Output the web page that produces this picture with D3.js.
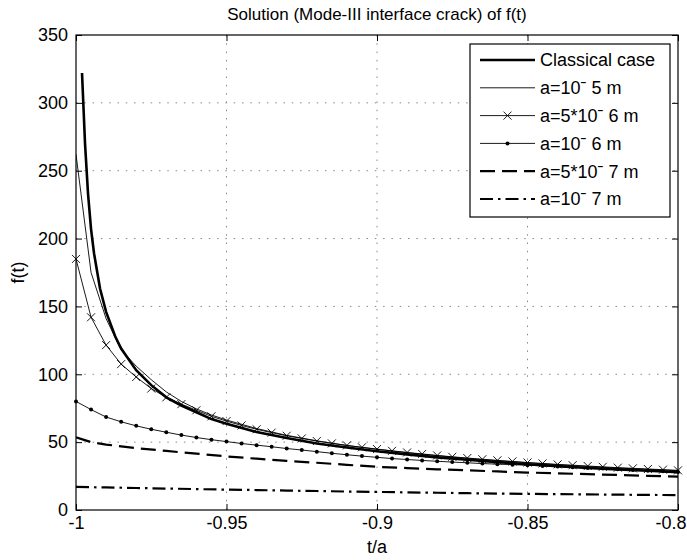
<!DOCTYPE html>
<html lang="en">
<head>
    <meta charset="utf-8">
    <title>Solution (Mode-III interface crack) of f(t)</title>
    <script src="https://d3js.org/d3.v7.min.js"></script>
    <style>
        body { margin: 0; background: #fff; }
        text { font-family: Arial, "Liberation Sans", Helvetica, sans-serif; fill: #000; }
    </style>
</head>
<body>
<script>
    // ---- Data ----
    // classical case (thick solid)
    const tClassical = [-0.998, -0.9975, -0.997, -0.996, -0.995, -0.994, -0.992, -0.99, -0.987, -0.985,
                        -0.98, -0.975, -0.97, -0.965, -0.96, -0.955, -0.95, -0.94, -0.93, -0.92,
                        -0.91, -0.9, -0.89, -0.88, -0.87, -0.86, -0.85, -0.84, -0.83, -0.82, -0.81, -0.8];
    const fClassical = [322, 296, 270, 233, 207, 189, 163, 146, 128, 119,
                        103, 92, 83, 77, 72, 67, 63.5, 57.5, 53, 49,
                        46, 43.3, 41, 38.8, 37, 35.3, 33.7, 32.3, 31, 29.9, 28.9, 27.9];

    // a = 10^-5 m (thin solid)
    const tA1 = [-1, -0.995, -0.99, -0.985, -0.98, -0.975, -0.97, -0.965, -0.96, -0.955, -0.95,
                 -0.94, -0.93, -0.92, -0.91, -0.9, -0.89, -0.88, -0.87, -0.86, -0.85,
                 -0.84, -0.83, -0.82, -0.81, -0.8];
    const fA1 = [262, 175, 141, 118, 106, 96, 87, 80, 74.5, 70, 66.3,
                 60, 55, 51, 47.5, 44.7, 42.2, 40, 38, 36.3, 34.8,
                 33.3, 32, 30.9, 29.9, 29];

    // sample points of the marker curves (step 0.005)
    const tMarked = [-1, -0.995, -0.99, -0.985, -0.98, -0.975, -0.97, -0.965, -0.96, -0.955,
                     -0.95, -0.945, -0.94, -0.935, -0.93, -0.925, -0.92, -0.915, -0.91, -0.905,
                     -0.9, -0.895, -0.89, -0.885, -0.88, -0.875, -0.87, -0.865, -0.86, -0.855,
                     -0.85, -0.845, -0.84, -0.835, -0.83, -0.825, -0.82, -0.815, -0.81, -0.805, -0.8];

    // a = 5*10^-6 m (x markers)
    const fA2 = [185, 142, 121.5, 107.5, 98, 89.5, 83, 78, 73.5, 69,
                 65.5, 62.3, 59.5, 57, 54.7, 52.7, 50.8, 49.1, 47.6, 46.2,
                 44.9, 43.6, 42.4, 41.3, 40.2, 39.2, 38.3, 37.4, 36.6, 35.8,
                 35, 34.3, 33.6, 33, 32.4, 31.8, 31.2, 30.7, 30.2, 29.7, 29.2];

    // a = 10^-6 m (dot markers)
    const fA3 = [80, 74, 68.5, 65, 62, 59.5, 57.3, 55.2, 53.4, 51.8,
                 50.4, 49, 47.8, 46.6, 45.3, 44.2, 43, 41.8, 40.7, 39.7,
                 38.8, 37.9, 37.2, 36.5, 35.9, 35.3, 34.8, 34.2, 33.8, 33.4,
                 33, 32.5, 32, 31.5, 31, 30.5, 30, 29.5, 29, 28.5, 28];

    // a = 5*10^-7 m (dashed) and a = 10^-7 m (dash-dot)
    const tLow = [-1, -0.995, -0.99, -0.98, -0.97, -0.96, -0.95, -0.94, -0.93, -0.92, -0.91, -0.9,
                  -0.89, -0.88, -0.87, -0.86, -0.85, -0.84, -0.83, -0.82, -0.81, -0.8];
    const fA4  = [53.5, 50, 48.2, 45.6, 43.5, 41.5, 39.5, 37.8, 36.2, 34.8, 33.3, 31.8,
                  30.9, 30, 29.2, 28.4, 27.6, 27, 26.4, 25.8, 25.2, 24.6];
    const fA5  = [17, 16.8, 16.6, 16.2, 15.8, 15.4, 15, 14.7, 14.3, 14, 13.6, 13.3,
                  13, 12.7, 12.4, 12.1, 11.9, 11.7, 11.5, 11.3, 11.1, 11];

    const legendLabels = ["Classical case", "a=10\u02C9 5 m", "a=5*10\u02C9 6 m",
                          "a=10\u02C9 6 m", "a=5*10\u02C9 7 m", "a=10\u02C9 7 m"];

    const xTicks = [-1, -0.95, -0.9, -0.85, -0.8];
    const xTickLabels = ["-1", "-0.95", "-0.9", "-0.85", "-0.8"];
    const yTicks = [0, 50, 100, 150, 200, 250, 300, 350];

    // ---- Dimensions ----
    const width = 687, height = 560;
    const pLeft = 76, pRight = 678, pTop = 35, pBottom = 510;

    const svg = d3.select("body").append("svg")
        .attr("width", width)
        .attr("height", height);

    const x = d3.scaleLinear().domain([-1, -0.8]).range([pLeft, pRight]);
    const y = d3.scaleLinear().domain([0, 350]).range([pBottom, pTop]);

    // grid (dotted)
    const grid = svg.append("g")
        .attr("stroke", "#888")
        .attr("stroke-width", 1)
        .attr("stroke-dasharray", "1.5,6.8");
    grid.selectAll(".gx").data(xTicks.slice(1, -1)).enter().append("line")
        .attr("x1", d => x(d)).attr("x2", d => x(d))
        .attr("y1", pTop).attr("y2", pBottom);
    grid.selectAll(".gy").data(yTicks.slice(1, -1)).enter().append("line")
        .attr("x1", pLeft).attr("x2", pRight)
        .attr("y1", d => y(d)).attr("y2", d => y(d));

    // axes with inward ticks on all four sides
    const tick = 6;
    const xAxisG = svg.append("g").attr("transform", `translate(0,${pBottom})`)
        .call(d3.axisBottom(x).tickValues(xTicks).tickFormat((d, i) => xTickLabels[i])
              .tickSizeInner(-tick).tickSizeOuter(0).tickPadding(6));
    svg.append("g").attr("transform", `translate(0,${pTop})`)
        .call(d3.axisTop(x).tickValues(xTicks).tickFormat("").tickSizeInner(-tick).tickSizeOuter(0));
    svg.append("g").attr("transform", `translate(${pLeft},0)`)
        .call(d3.axisLeft(y).tickValues(yTicks).tickFormat(d3.format("d"))
              .tickSizeInner(-tick).tickSizeOuter(0).tickPadding(8));
    svg.append("g").attr("transform", `translate(${pRight},0)`)
        .call(d3.axisRight(y).tickValues(yTicks).tickFormat("").tickSizeInner(-tick).tickSizeOuter(0));
    svg.selectAll(".domain").remove();
    svg.selectAll(".tick line").attr("stroke", "#000");
    svg.selectAll(".tick text").attr("font-size", 18).attr("fill", "#000")
        .style("font-family", "Arial, 'Liberation Sans', sans-serif");
    // last x label sits against the right edge of the figure
    xAxisG.selectAll(".tick text").filter((d, i) => i === xTicks.length - 1)
        .attr("text-anchor", "end").attr("x", width - 1 - pRight);

    // box
    svg.append("rect")
        .attr("x", pLeft).attr("y", pTop)
        .attr("width", pRight - pLeft).attr("height", pBottom - pTop)
        .attr("fill", "none").attr("stroke", "#000").attr("stroke-width", 1.2);

    // ---- Curves ----
    const line = d3.line().x(d => x(d[0])).y(d => y(d[1]));
    const zip = (ts, fs) => ts.map((t, i) => [t, fs[i]]);

    const series = [
        { pts: zip(tClassical, fClassical), w: 2.6, dash: null },
        { pts: zip(tA1, fA1), w: 0.9, dash: null },
        { pts: zip(tMarked, fA2), w: 0.9, dash: null, marker: "x" },
        { pts: zip(tMarked, fA3), w: 0.9, dash: null, marker: "dot" },
        { pts: zip(tLow, fA4), w: 2.2, dash: "15,7" },
        { pts: zip(tLow, fA5), w: 2.2, dash: "13,5,2.5,5" }
    ];

    svg.append("clipPath").attr("id", "clip").append("rect")
        .attr("x", pLeft).attr("y", pTop).attr("width", pRight - pLeft).attr("height", pBottom - pTop);
    const plot = svg.append("g").attr("clip-path", "url(#clip)");

    function drawMarker(g, type, cx, cy) {
        if (type === "x") {
            const s = 4;
            g.append("path")
                .attr("d", `M${cx - s},${cy - s}L${cx + s},${cy + s}M${cx - s},${cy + s}L${cx + s},${cy - s}`)
                .attr("stroke", "#000").attr("stroke-width", 0.9).attr("fill", "none");
        } else if (type === "dot") {
            g.append("circle").attr("cx", cx).attr("cy", cy).attr("r", 2).attr("fill", "#000");
        }
    }

    series.forEach(s => {
        plot.append("path")
            .datum(s.pts)
            .attr("fill", "none")
            .attr("stroke", "#000")
            .attr("stroke-width", s.w)
            .attr("stroke-dasharray", s.dash)
            .attr("d", line);
        if (s.marker) {
            s.pts.forEach(p => drawMarker(svg, s.marker, x(p[0]), y(p[1])));
        }
    });

    // ---- Labels ----
    svg.append("text").attr("x", (pLeft + pRight) / 2).attr("y", 20)
        .attr("text-anchor", "middle").attr("font-size", 17)
        .text("Solution (Mode-III interface crack) of f(t)");
    svg.append("text").attr("x", (pLeft + pRight) / 2).attr("y", 553)
        .attr("text-anchor", "middle").attr("font-size", 18).text("t/a");
    svg.append("text")
        .attr("transform", `translate(24,${(pTop + pBottom) / 2}) rotate(-90)`)
        .attr("text-anchor", "middle").attr("font-size", 18).text("f(t)");

    // ---- Legend ----
    const lg = svg.append("g");
    lg.append("rect").attr("x", 470).attr("y", 44)
        .attr("width", 200).attr("height", 173)
        .attr("fill", "#fff").attr("stroke", "#000").attr("stroke-width", 1.2);
    series.forEach((s, i) => {
        const ly = 60 + i * 27.8;
        lg.append("line").attr("x1", 480).attr("x2", 535).attr("y1", ly).attr("y2", ly)
            .attr("stroke", "#000").attr("stroke-width", s.w).attr("stroke-dasharray", s.dash);
        if (s.marker) drawMarker(lg, s.marker, 507.5, ly);
        lg.append("text").attr("x", 540).attr("y", ly).attr("dy", "0.36em")
            .attr("font-size", 18).text(legendLabels[i]);
    });
</script>
</body>
</html>
